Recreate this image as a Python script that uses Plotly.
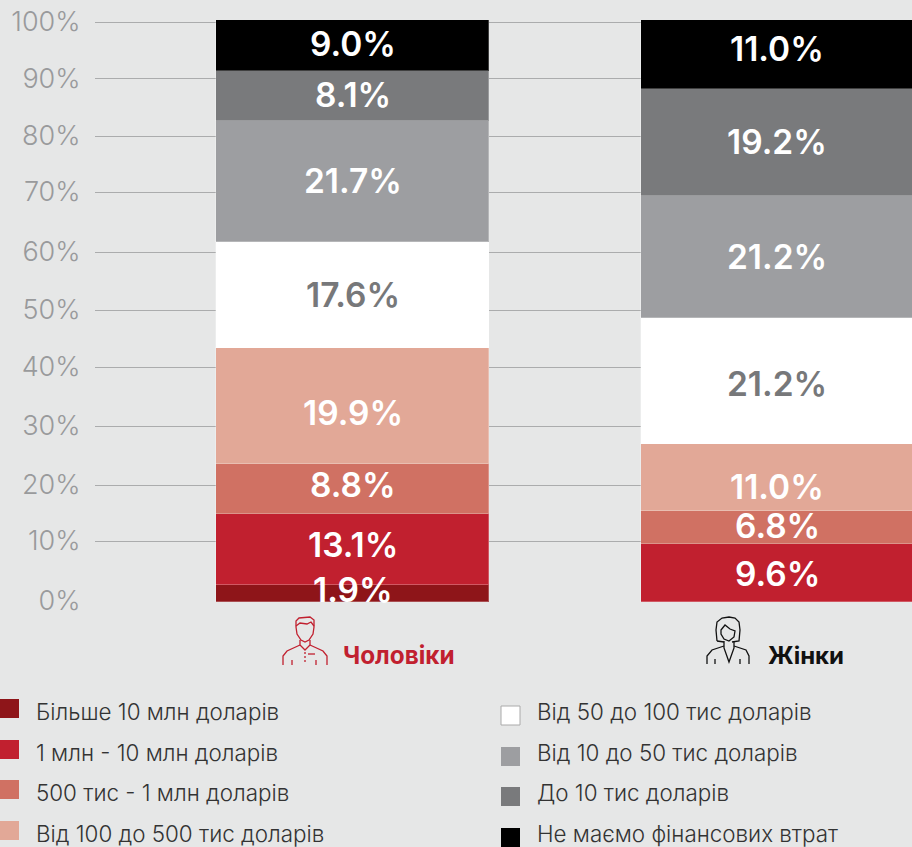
import plotly.graph_objects as go

W, H = 912, 847
categories = ["Чоловіки", "Жінки"]
series_names = ["Більше 10 млн доларів", "1 млн - 10 млн доларів", "500 тис - 1 млн доларів",
                "Від 100 до 500 тис доларів", "Від 50 до 100 тис доларів", "Від 10 до 50 тис доларів",
                "До 10 тис доларів", "Не маємо фінансових втрат"]
men_heights = [2.9, 12.2, 8.6, 19.9, 18.2, 20.8, 8.6, 8.8]
women_heights = [0, 10.0, 5.7, 11.5, 21.6, 21.0, 18.4, 11.8]
men_labels = ["1.9%", "13.1%", "8.8%", "19.9%", "17.6%", "21.7%", "8.1%", "9.0%"]
women_labels = ["", "9.6%", "6.8%", "11.0%", "21.2%", "21.2%", "19.2%", "11.0%"]
colors = ["#8E1519", "#C1202F", "#D07163", "#E2A897", "#FFFFFF", "#9D9EA1", "#797A7C", "#000000"]
label_colors = ["#FFFFFF"] * 4 + ["#77787A"] + ["#FFFFFF"] * 3
tick_positions = [0.17, 10.48, 20.1, 30.24, 40.38, 50.17, 60.14, 70.45, 80.07, 90.03, 99.66]
tick_labels = ["0%", "10%", "20%", "30%", "40%", "50%", "60%", "70%", "80%", "90%", "100%"]
# small pixel nudges of the value labels from their segment centres
men_nudge = [4, 5, 4, -7, 0, 1, 1, 2]
women_nudge = [0, -1, 1, -10, -3, 0, 0, 5]

FONT = "Inter"
BG = "#E6E7E7"
px = lambda x: x / W
py = lambda y: 1 - y / H

fig = go.Figure()
for i, name in enumerate(series_names):
    fig.add_trace(go.Bar(
        x=categories, y=[men_heights[i], women_heights[i]], name=name, width=0.643,
        marker=dict(color=colors[i], line=dict(color="rgba(255,255,255,0.25)", width=1)),
        showlegend=False, hoverinfo="name+y",
    ))

shapes, annotations = [], []
for c, (heights, labels, nudge) in enumerate([(men_heights, men_labels, men_nudge),
                                              (women_heights, women_labels, women_nudge)]):
    base = 0
    for i, h in enumerate(heights):
        if labels[i]:
            annotations.append(dict(x=categories[c], y=base + h / 2, xref="x", yref="y", text=labels[i], showarrow=False,
                                    yshift=nudge[i], font=dict(family=FONT, size=33.5, color=label_colors[i], weight=600)))
        base += h

left_y = [712, 753, 793, 834]
for i, name in enumerate(series_names):
    col = i // 4
    yc = left_y[i % 4]
    sx = 0 if col == 0 else 501
    sy = yc - 13 if col == 0 else yc - 6
    shapes.append(dict(type="rect", xref="paper", yref="paper", x0=px(sx), x1=px(sx + 19), y0=py(sy), y1=py(sy + 19),
                       fillcolor=colors[i], line=dict(color="#AAAAAA" if colors[i] == "#FFFFFF" else colors[i],
                                                      width=1 if colors[i] == "#FFFFFF" else 0)))
    annotations.append(dict(xref="paper", yref="paper", x=px(34 if col == 0 else 535), y=py(yc - 1), text=name,
                            showarrow=False, xanchor="left", yanchor="middle",
                            font=dict(family=FONT, size=22.4, color="#333333", weight=300)))

annotations.append(dict(xref="paper", yref="paper", x=px(341), y=py(655), text="<b>Чоловіки</b>", showarrow=False,
                        xanchor="left", yanchor="middle", font=dict(family=FONT, size=24.3, color="#C1202F")))
annotations.append(dict(xref="paper", yref="paper", x=px(766), y=py(655), text="<b>Жінки</b>", showarrow=False,
                        xanchor="left", yanchor="middle", font=dict(family=FONT, size=24, color="#111111")))


def path(points_cmds):
    out = []
    for tok in points_cmds:
        if isinstance(tok, str):
            out.append(tok)
        else:
            out.append(f"{px(tok[0]):.5f},{py(tok[1]):.5f}")
    return " ".join(out)


def icon(cmds, color, dash="solid"):
    shapes.append(dict(type="path", xref="paper", yref="paper", path=path(cmds),
                       line=dict(color=color, width=1.3, dash=dash)))


RED = "#C1202F"
# man
icon(["M", (296, 627), "L", (296, 621), "L", (299, 618), "L", (310, 617), "L", (314, 620), "L", (314, 627),
      "L", (313, 634), "L", (309, 640), "L", (305, 642), "L", (301, 640), "L", (297, 634), "Z"], RED)
icon(["M", (296, 626), "L", (300, 623), "L", (307, 624), "L", (311, 622), "L", (314, 626)], RED)
icon(["M", (300, 640), "L", (300, 645), "L", (305, 650), "L", (310, 645), "L", (310, 640)], RED)
icon(["M", (300, 645), "L", (287, 651), "L", (283, 656), "L", (283, 665)], RED)
icon(["M", (310, 645), "L", (323, 651), "L", (327, 656), "L", (327, 665)], RED)
icon(["M", (292, 660), "L", (292, 665)], RED)
icon(["M", (316, 660), "L", (316, 665)], RED)
icon(["M", (305, 652), "L", (305, 663)], RED, dash="2px,2px")
icon(["M", (308, 654), "L", (315, 654)], RED)
# woman
K = "#111111"
icon(["M", (717, 641), "L", (716, 630), "L", (717, 622), "L", (722, 618), "L", (729, 617), "L", (735, 618),
      "L", (739, 622), "L", (740, 630), "L", (739, 641), "L", (732, 642)], K)
icon(["M", (717, 641), "L", (724, 642)], K)
icon(["M", (721, 630), "L", (725, 625), "L", (730, 629), "L", (735, 631), "L", (734, 637), "L", (729, 641),
      "L", (724, 639), "L", (721, 634), "Z"], K)
icon(["M", (724, 641), "L", (724, 648), "L", (729, 662), "L", (734, 648), "L", (734, 641)], K)
icon(["M", (724, 646), "L", (712, 650), "L", (707, 656), "L", (707, 664)], K)
icon(["M", (734, 646), "L", (746, 650), "L", (749, 656), "L", (749, 664)], K)
icon(["M", (715, 659), "L", (715, 664)], K)
icon(["M", (740, 659), "L", (740, 664)], K)

fig.update_layout(
    width=W, height=H, autosize=False, barmode="stack", bargap=0,
    paper_bgcolor=BG, plot_bgcolor=BG, margin=dict(l=0, r=0, t=0, b=0),
    shapes=shapes, annotations=annotations, font=dict(family=FONT),
    xaxis=dict(domain=[px(95), 1], range=[-0.6066, 1.318], showticklabels=False, showgrid=False, zeroline=False,
               showline=False, ticks=""),
    yaxis=dict(domain=[py(602), py(20)], range=[0, 100.01], automargin=False, tickmode="array",
               tickvals=tick_positions, ticktext=tick_labels,
               showgrid=True, gridcolor="#ABACAD", gridwidth=1, zeroline=False, showline=False,
               ticks="outside", ticklen=8, tickcolor=BG, tickwidth=1,
               tickfont=dict(family=FONT, size=27, color="#999A9C", weight=300)),
)
fig.write_html("out.html", config={"displayModeBar": False},
               post_script="document.body.style.margin='0';document.documentElement.style.background='" + BG + "';")
